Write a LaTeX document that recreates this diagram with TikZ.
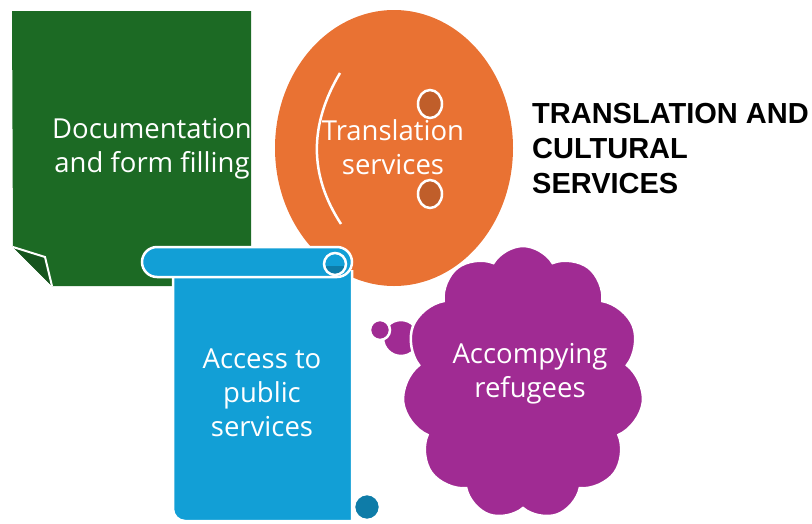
\documentclass[tikz,border=0pt]{standalone}
\usepackage{fontspec}
\setmainfont{Open Sans}
\newfontfamily\titlefont{Liberation Sans}
\usetikzlibrary{shapes.symbols}
\definecolor{docgreen}{RGB}{28,106,36}
\definecolor{folddark}{RGB}{22,84,30}
\definecolor{transorange}{RGB}{233,114,51}
\definecolor{dotorange}{RGB}{192,94,42}
\definecolor{scrollblue}{RGB}{18,159,214}
\definecolor{curlblue}{RGB}{14,124,168}
\definecolor{cloudpurple}{RGB}{160,43,147}
\tikzset{
  outl/.style={draw=white,line width=2.5pt},
  lbl/.style={text=white,align=center,font=\fontsize{27.5}{34}\selectfont,inner sep=0pt},
}
\begin{document}
\begin{tikzpicture}[x=1pt,y=-1pt]
\useasboundingbox (0,0) rectangle (812,523);
% green document
\fill[docgreen] (12,11) -- (251,11) -- (251,286) -- (52,286) -- (13,247) -- cycle;
\filldraw[fill=folddark,draw=white,line width=2pt,line join=miter] (13,247) -- (45,257) -- (52,286);
\node[lbl] (doc) at (152,149) {Documentation\\and form filling};
% orange circle
\fill[transorange] (394,148) ellipse [x radius=119,y radius=138];
\draw[white,line width=2.5pt] (340,73) .. controls (309,125) and (309,175) .. (341,224);
\filldraw[fill=dotorange,outl] (430,104) ellipse [x radius=12,y radius=14];
\filldraw[fill=dotorange,outl] (430,194) ellipse [x radius=12,y radius=14];
\node[lbl] (trans) at (393,147) {Translation\\services};
% title
\node[anchor=north west,align=left,inner sep=0pt,font=\titlefont\bfseries\fontsize{29}{35}\selectfont] (title) at (532,103) {TRANSLATION AND\\CULTURAL\\SERVICES};
% scroll
\filldraw[fill=curlblue,outl] (367,507) circle (13);
\filldraw[fill=scrollblue,outl] (173,270) -- (173,509) .. controls (173,515.6) and (178.4,521) .. (185,521) -- (352,521) -- (352,270);
\filldraw[fill=scrollblue,outl,rounded corners=15pt] (142,247) rectangle (352,277);
\begin{scope}
\clip (335,264) circle (11);
\fill[curlblue] (322,266) rectangle (350,280);
\end{scope}
\draw[outl] (335,264) circle (11);
\node[lbl] (access) at (262,393) {Access to\\public\\services};
% thought bubbles
\filldraw[fill=cloudpurple,outl] (401,338) circle (18);
\filldraw[fill=cloudpurple,outl] (380,330) circle (10);
% cloud
\node[cloud,cloud puffs=11,cloud puff arc=120,aspect=0.9,fill=cloudpurple,draw=white,line width=2.5pt,minimum width=242pt,minimum height=274pt,inner sep=0pt] (cloud) at (523,383) {};
\node[lbl] (acc) at (530,374) {Accompying\\refugees};
\end{tikzpicture}
\end{document}
